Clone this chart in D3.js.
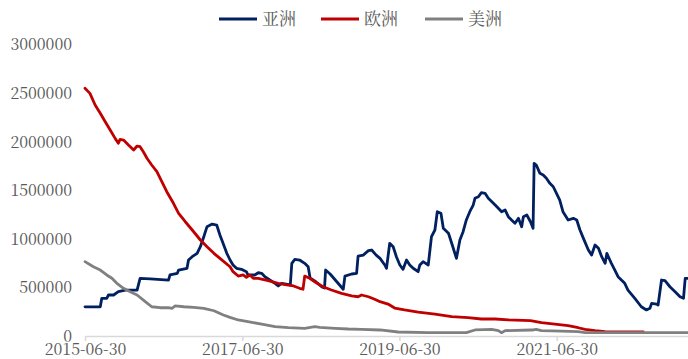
<!DOCTYPE html>
<html>
<head>
<meta charset="utf-8">
<script src="https://cdn.jsdelivr.net/npm/d3@7"></script>
<style>
  html, body { margin: 0; padding: 0; background: #fff; }
  svg { display: block; }
  .axis-label { font-family: "Noto Serif CJK SC", "Noto Sans CJK SC", serif; font-size: 16px; fill: #595959; }
  .legend-label { font-family: "Noto Serif CJK SC", "Noto Sans CJK SC", serif; font-size: 17px; fill: #595959; }
</style>
</head>
<body>
<svg id="chart" width="688" height="359"></svg>
<script>
// Series names and colours
const seriesNames = ["亚洲", "欧洲", "美洲"];
const seriesColors = ["#002060", "#C00000", "#808080"];

// Y axis tick values
const yTicks = [0, 500000, 1000000, 1500000, 2000000, 2500000, 3000000];
// X axis tick labels
const xTickLabels = ["2015-06-30", "2017-06-30", "2019-06-30", "2021-06-30"];
const xDomain = ["2015-06-30", "2023-03-02"];

// 亚洲
const asia = [
  ["2015-06-30",300000],["2015-09-09",300000],["2015-09-16",388000],["2015-10-09",388000],
  ["2015-10-17",422000],["2015-11-10",422000],["2015-12-02",456000],["2016-01-03",473000],
  ["2016-02-27",473000],["2016-03-12",594000],["2016-04-28",587000],["2016-07-22",576000],
  ["2016-07-29",628000],["2016-09-01",645000],["2016-09-07",679000],["2016-10-16",697000],
  ["2016-10-23",782000],["2016-11-09",816000],["2016-12-02",851000],["2016-12-17",919000],
  ["2017-01-02",1022000],["2017-01-17",1125000],["2017-02-10",1152000],["2017-03-03",1142000],
  ["2017-03-18",1039000],["2017-04-19",851000],["2017-05-04",782000],["2017-05-18",731000],
  ["2017-06-03",697000],["2017-06-26",686000],["2017-07-19",662000],["2017-07-26",628000],
  ["2017-08-27",628000],["2017-09-12",651000],["2017-09-28",645000],["2017-10-13",610000],
  ["2017-11-29",542000],["2017-12-14",515000],["2017-12-30",542000],["2018-02-08",525000],
  ["2018-02-15",748000],["2018-03-01",789000],["2018-03-23",782000],["2018-04-16",748000],
  ["2018-05-02",713000],["2018-05-11",597000],["2018-06-08",556000],["2018-07-05",504000],
  ["2018-07-17",494000],["2018-07-22",679000],["2018-08-12",638000],["2018-10-12",481000],
  ["2018-10-20",617000],["2018-11-20",638000],["2018-12-13",645000],["2018-12-20",823000],
  ["2019-01-13",833000],["2019-02-06",878000],["2019-02-21",885000],["2019-03-14",833000],
  ["2019-04-01",799000],["2019-04-23",731000],["2019-05-01",697000],["2019-05-16",954000],
  ["2019-06-01",919000],["2019-06-16",816000],["2019-07-02",731000],["2019-07-17",686000],
  ["2019-08-02",782000],["2019-08-17",731000],["2019-09-02",697000],["2019-09-25",662000],
  ["2019-10-03",731000],["2019-10-18",765000],["2019-11-11",731000],["2019-11-26",1022000],
  ["2019-12-12",1091000],["2019-12-23",1279000],["2020-01-09",1263000],["2020-01-20",1108000],
  ["2020-02-13",1057000],["2020-02-28",954000],["2020-03-21",799000],["2020-04-06",988000],
  ["2020-04-21",1073000],["2020-05-06",1194000],["2020-05-22",1279000],["2020-06-07",1348000],
  ["2020-06-15",1417000],["2020-07-01",1433000],["2020-07-15",1475000],["2020-08-01",1468000],
  ["2020-08-16",1417000],["2020-09-17",1348000],["2020-10-17",1279000],["2020-11-02",1297000],
  ["2020-11-17",1228000],["2020-12-02",1194000],["2020-12-18",1160000],["2021-01-03",1211000],
  ["2021-01-18",1125000],["2021-01-26",1228000],["2021-02-11",1245000],["2021-02-28",1176000],
  ["2021-03-12",1108000],["2021-03-17",1777000],["2021-03-27",1760000],["2021-04-13",1674000],
  ["2021-04-28",1657000],["2021-05-13",1623000],["2021-05-29",1571000],["2021-06-14",1536000],
  ["2021-06-29",1468000],["2021-07-14",1399000],["2021-07-29",1279000],["2021-08-22",1194000],
  ["2021-09-15",1211000],["2021-10-01",1194000],["2021-10-16",1091000],["2021-11-01",1005000],
  ["2021-11-24",885000],["2021-12-09",833000],["2021-12-25",936000],["2022-01-10",902000],
  ["2022-01-25",816000],["2022-02-10",748000],["2022-02-18",851000],["2022-02-25",816000],
  ["2022-03-11",748000],["2022-03-27",679000],["2022-04-11",610000],["2022-05-12",542000],
  ["2022-05-27",473000],["2022-06-28",388000],["2022-07-28",301000],["2022-08-21",268000],
  ["2022-09-06",285000],["2022-09-14",336000],["2022-10-07",329000],["2022-10-14",319000],
  ["2022-10-30",576000],["2022-11-15",569000],["2022-12-08",507000],["2023-01-01",456000],
  ["2023-01-24",404000],["2023-02-09",388000],["2023-02-17",594000],["2023-02-28",594000]
];

// 欧洲
const europe = [
  ["2015-06-30",2549000],["2015-07-23",2497000],["2015-08-16",2377000],["2015-09-09",2292000],
  ["2015-10-02",2205000],["2015-10-25",2120000],["2015-11-17",2034000],["2015-12-02",1983000],
  ["2015-12-10",2024000],["2015-12-26",2017000],["2016-01-18",1965000],["2016-02-11",1914000],
  ["2016-02-27",1955000],["2016-03-12",1948000],["2016-03-27",1896000],["2016-04-13",1829000],
  ["2016-05-05",1760000],["2016-05-29",1691000],["2016-06-21",1588000],["2016-07-14",1485000],
  ["2016-08-14",1366000],["2016-09-07",1263000],["2016-10-08",1176000],["2016-11-16",1073000],
  ["2016-12-17",988000],["2017-01-17",919000],["2017-02-18",851000],["2017-03-18",799000],
  ["2017-05-04",713000],["2017-05-18",662000],["2017-06-11",617000],["2017-07-04",628000],
  ["2017-07-19",604000],["2017-08-04",628000],["2017-08-20",594000],["2017-09-12",594000],
  ["2017-10-28",569000],["2017-12-14",542000],["2018-01-22",525000],["2018-02-23",515000],
  ["2018-03-23",491000],["2018-04-08",481000],["2018-04-16",617000],["2018-05-09",594000],
  ["2018-06-09",548000],["2018-07-10",507000],["2018-08-18",473000],["2018-10-04",439000],
  ["2018-11-20",412000],["2018-12-20",404000],["2019-01-05",422000],["2019-02-06",404000],
  ["2019-03-07",378000],["2019-04-01",353000],["2019-05-08",329000],["2019-06-08",288000],
  ["2019-07-24",268000],["2019-09-25",245000],["2019-12-12",224000],["2020-02-28",199000],
  ["2020-05-14",189000],["2020-07-15",175000],["2020-09-17",175000],["2020-11-17",165000],
  ["2021-02-28",158000],["2021-04-20",137000],["2021-06-21",123000],["2021-08-22",106000],
  ["2021-10-08",85000],["2021-11-09",69000],["2021-12-25",55000],["2022-02-10",44000],
  ["2022-04-26",41000],["2022-08-06",41000]
];

// 美洲
const americas = [
  ["2015-06-30",765000],["2015-08-08",713000],["2015-09-09",679000],["2015-10-09",628000],
  ["2015-11-02",594000],["2015-11-25",542000],["2015-12-26",491000],["2016-01-26",456000],
  ["2016-02-27",422000],["2016-04-05",353000],["2016-05-05",301000],["2016-06-13",291000],
  ["2016-07-22",291000],["2016-08-07",285000],["2016-08-22",309000],["2016-10-01",301000],
  ["2016-11-16",295000],["2017-01-02",285000],["2017-02-18",260000],["2017-04-03",216000],
  ["2017-05-04",192000],["2017-06-11",165000],["2017-07-26",147000],["2017-09-28",123000],
  ["2017-11-29",96000],["2018-01-30",86000],["2018-04-16",79000],["2018-06-02",96000],
  ["2018-06-25",89000],["2018-09-04",79000],["2018-11-05",72000],["2019-01-05",69000],
  ["2019-04-01",62000],["2019-06-24",41000],["2019-11-11",34000],["2020-05-06",34000],
  ["2020-06-15",62000],["2020-09-01",69000],["2020-10-02",55000],["2020-10-17",34000],
  ["2020-11-02",55000],["2021-02-28",62000],["2021-03-12",62000],["2021-03-27",69000],
  ["2021-04-20",55000],["2021-07-22",51000],["2021-10-08",44000],["2021-11-09",34000],
  ["2023-02-28",34000]
];

const parse = d3.timeParse("%Y-%m-%d");
const series = [asia, europe, americas].map(s => s.map(([d, v]) => ({ date: parse(d), value: v })));

const svg = d3.select("#chart");

const x = d3.scaleTime()
  .domain(xDomain.map(parse))
  .range([85, 688]);

const y = d3.scaleLinear()
  .domain([0, 3000000])
  .range([336, 44.5]);

// X axis
const xAxis = d3.axisBottom(x)
  .tickValues(xTickLabels.map(parse))
  .tickFormat(d3.timeFormat("%Y-%m-%d"))
  .tickSizeInner(5)
  .tickSizeOuter(0);

const gx = svg.append("g")
  .attr("transform", "translate(0,336)")
  .call(xAxis)
  .attr("font-family", null)
  .attr("font-size", null);
gx.select(".domain").attr("stroke", "#d9d9d9").attr("stroke-width", 1.5);
gx.selectAll(".tick line").attr("stroke", "#d9d9d9").attr("stroke-width", 1.5);
gx.selectAll(".tick text")
  .attr("class", "axis-label")
  .attr("fill", null)
  .attr("y", 0)
  .attr("dy", "18.5px");

// Y axis (labels only)
const yAxis = d3.axisLeft(y)
  .tickValues(yTicks)
  .tickFormat(d3.format("d"))
  .tickSize(0);

const gy = svg.append("g")
  .attr("transform", "translate(72,0)")
  .call(yAxis)
  .attr("font-family", null)
  .attr("font-size", null);
gy.select(".domain").remove();
gy.selectAll(".tick text")
  .attr("class", "axis-label")
  .attr("fill", null)
  .attr("x", 0)
  .attr("dy", "0.34em");

// Lines
const line = d3.line()
  .x(d => x(d.date))
  .y(d => y(d.value));

svg.append("g")
  .selectAll("path")
  .data(series)
  .join("path")
  .attr("d", line)
  .attr("fill", "none")
  .attr("stroke", (d, i) => seriesColors[i])
  .attr("stroke-width", 2.8)
  .attr("stroke-linejoin", "round")
  .attr("stroke-linecap", "round");

// Legend
const legendX = [219, 321, 425];
const legend = svg.append("g");
seriesNames.forEach((name, i) => {
  const g = legend.append("g").attr("transform", `translate(${legendX[i]},19)`);
  g.append("line")
    .attr("x1", 0).attr("x2", 38)
    .attr("y1", 0).attr("y2", 0)
    .attr("stroke", seriesColors[i])
    .attr("stroke-width", 3);
  g.append("text")
    .attr("class", "legend-label")
    .attr("x", 43)
    .attr("y", 0)
    .attr("dy", "0.36em")
    .text(name);
});
</script>
</body>
</html>
